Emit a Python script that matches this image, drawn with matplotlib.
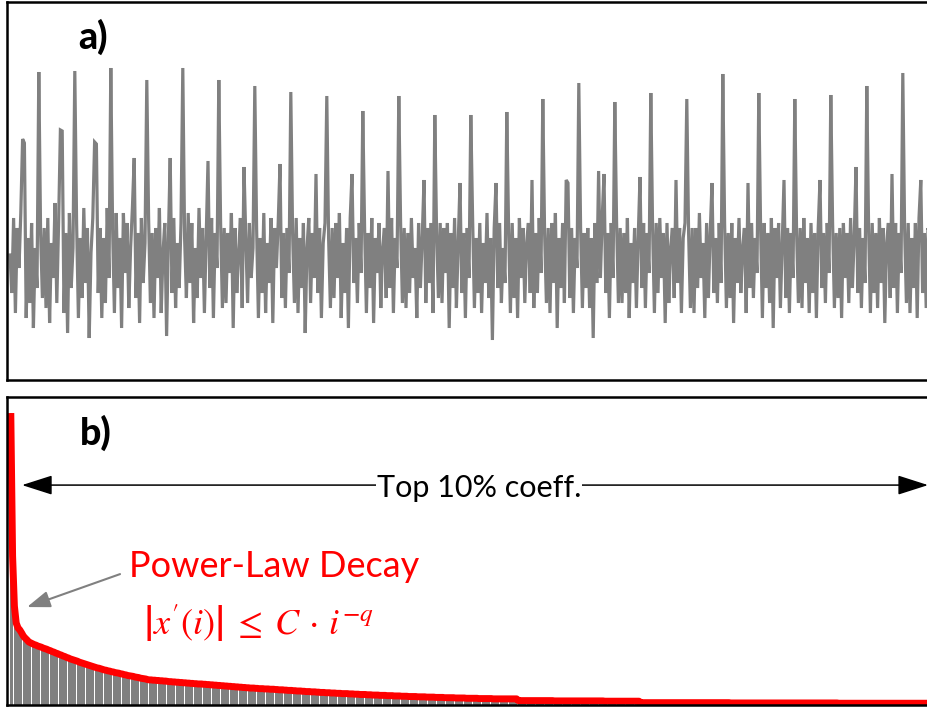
import numpy as np
import matplotlib
matplotlib.use("Agg")
import matplotlib.pyplot as plt

# ---------------- data ----------------
# panel a: signal samples (one row per ~20-sample period)
signal = [
    0.03, -0.35, 0.40, -0.55, 0.30, -0.10, 0.45, 1.19, 1.15, -0.60, 0.20, -0.45, 0.35, -0.70, 0.10, -0.30, 1.86, 0.25, -0.40, 0.30,
    -0.50, 0.40, -0.65, 0.15, -0.20, 0.55, -0.45, 0.35, 1.28, 1.27, -0.55, 0.25, -0.75, 0.45, -0.30, 0.10, 1.87, 0.35, -0.60, 0.20,
    -0.40, 0.50, -0.25, 0.30, -0.80, 0.05, 0.40, 1.16, 1.14, -0.35, 0.30, -0.60, 0.20, -0.45, 0.50, -0.20, 1.90, 0.30, -0.55, 0.45,
    -0.30, 0.20, -0.70, 0.45, -0.15, 0.35, -0.50, 0.10, 0.50, 1.00, -0.40, 0.25, -0.65, 0.40, -0.25, 0.15, 1.78, 0.40, -0.45, 0.25,
    -0.60, 0.30, -0.20, 0.50, -0.55, 0.05, 0.35, -0.78, 0.20, 1.00, -0.35, 0.40, -0.50, 0.15, -0.30, 0.35, 1.90, 0.20, -0.40, 0.45,
    -0.25, 0.35, -0.65, 0.10, -0.40, 0.50, -0.20, 0.30, -0.55, 0.20, 0.97, -0.30, 0.40, -0.60, 0.25, -0.10, 1.78, 0.35, -0.50, 0.30,
    -0.45, 0.25, -0.15, 0.45, -0.70, 0.30, -0.35, 0.05, 0.40, -0.50, 0.91, 0.20, -0.45, 0.35, -0.20, 0.10, 1.72, 0.30, -0.60, 0.20,
    -0.35, 0.45, -0.55, 0.15, -0.25, 0.40, -0.65, 0.30, -0.10, 0.35, 0.94, -0.40, 0.25, -0.50, 0.30, -0.15, 1.66, 0.25, -0.45, 0.40,
    -0.55, 0.20, -0.30, 0.35, -0.75, 0.10, 0.40, -0.45, 0.25, -0.20, 0.84, -0.35, 0.30, -0.60, 0.15, 0.35, 1.62, 0.20, -0.50, 0.30,
    -0.40, 0.35, -0.20, 0.45, -0.60, 0.15, -0.35, 0.30, -0.70, 0.40, 0.84, -0.25, 0.20, -0.45, 0.35, -0.15, 1.47, 0.30, -0.55, 0.25,
    -0.30, 0.40, -0.65, 0.20, -0.15, 0.35, -0.50, 0.10, 0.30, -0.40, 0.87, -0.30, 0.40, -0.55, 0.20, -0.10, 1.62, 0.35, -0.45, 0.30,
    -0.50, 0.25, -0.35, 0.40, -0.20, 0.10, -0.60, 0.35, -0.30, 0.20, 0.78, -0.45, 0.30, -0.25, 0.35, -0.55, 1.43, 0.25, -0.40, 0.35,
    -0.45, 0.30, -0.15, 0.35, -0.70, 0.25, -0.30, 0.40, -0.50, 0.15, 0.75, -0.35, 0.25, -0.60, 0.30, -0.20, 1.43, 0.40, -0.50, 0.20,
    -0.35, 0.35, -0.55, 0.15, -0.25, 0.45, -0.40, 0.20, -0.82, 0.30, 0.75, -0.30, 0.35, -0.45, 0.10, -0.25, 1.46, 0.30, -0.55, 0.35,
    -0.40, 0.20, -0.60, 0.40, -0.20, 0.30, -0.45, 0.15, 0.35, -0.35, 0.78, -0.50, 0.25, -0.35, 0.40, -0.15, 1.59, 0.25, -0.45, 0.30,
    -0.55, 0.35, -0.25, 0.45, -0.70, 0.20, -0.30, 0.35, -0.45, 0.78, 0.75, -0.40, 0.30, -0.55, 0.20, -0.10, 1.75, 0.30, -0.50, 0.25,
    -0.30, 0.30, -0.50, 0.20, -0.80, 0.35, -0.25, 0.87, -0.20, 0.40, 0.84, -0.35, 0.25, -0.60, 0.35, -0.20, 1.56, 0.35, -0.45, 0.30,
    -0.45, 0.25, -0.35, 0.40, -0.60, 0.15, -0.25, 0.30, -0.50, 0.20, 0.81, -0.30, 0.35, -0.50, 0.25, -0.15, 1.65, 0.30, -0.55, 0.35,
    -0.35, 0.40, -0.20, 0.25, -0.65, 0.35, -0.45, 0.10, 0.30, -0.40, 0.78, -0.25, 0.30, -0.55, 0.20, 0.35, 1.59, 0.25, -0.50, 0.30,
    -0.55, 0.30, -0.30, 0.45, -0.20, 0.15, -0.60, 0.35, -0.40, 0.25, 0.75, -0.35, 0.20, -0.45, 0.35, -0.25, 1.84, 0.35, -0.50, 0.25,
    -0.40, 0.35, -0.65, 0.20, -0.25, 0.40, -0.35, 0.10, 0.30, -0.55, 0.75, -0.30, 0.35, -0.40, 0.20, -0.15, 1.65, 0.30, -0.60, 0.35,
    -0.30, 0.25, -0.45, 0.40, -0.70, 0.30, -0.20, 0.35, -0.50, 0.15, 0.78, -0.40, 0.30, -0.55, 0.25, -0.20, 1.59, 0.25, -0.45, 0.30,
    -0.50, 0.40, -0.25, 0.20, -0.55, 0.35, -0.35, 0.25, -0.60, 0.30, 0.78, -0.30, 0.25, -0.45, 0.35, -0.15, 1.63, 0.35, -0.50, 0.25,
    -0.40, 0.30, -0.60, 0.35, -0.20, 0.25, -0.45, 0.40, -0.30, 0.20, 0.91, -0.35, 0.30, -0.50, 0.20, -0.25, 1.72, 0.30, -0.55, 0.35,
    -0.35, 0.25, -0.50, 0.40, -0.25, 0.30, -0.65, 0.15, 0.35, -0.40, 0.84, -0.30, 0.35, -0.55, 0.25, -0.15, 1.85, 0.30, -0.45, 0.35,
    -0.55, 0.20, -0.30, 0.35, -0.60, 0.40, 0.78, -0.35, 0.25, -0.50, 0.30, -0.62,
]

# panel b: sorted coefficient magnitudes (normalised)
coeffs = [
    1.000, 0.510, 0.339, 0.281, 0.264, 0.257, 0.247, 0.236, 0.229, 0.223, 0.216,
    0.213, 0.210, 0.207, 0.205, 0.202, 0.200, 0.198, 0.195, 0.193, 0.191, 0.188,
    0.186, 0.183, 0.181, 0.178, 0.176, 0.173, 0.171, 0.168, 0.166, 0.163, 0.161, 0.158, 0.156, 0.154, 0.152, 0.150, 0.147,
    0.145, 0.143, 0.141, 0.139, 0.137, 0.135, 0.133, 0.131, 0.129, 0.127, 0.126, 0.124, 0.122, 0.120, 0.119, 0.117, 0.116, 0.114, 0.113, 0.111, 0.110,
    0.109, 0.107, 0.106, 0.104, 0.103, 0.101, 0.100, 0.099, 0.098, 0.096, 0.095, 0.094, 0.092, 0.091, 0.090, 0.089, 0.087, 0.086,
    0.086, 0.085, 0.085, 0.084, 0.084, 0.083, 0.083, 0.082, 0.082, 0.081, 0.080, 0.080, 0.079, 0.079, 0.078, 0.078, 0.077, 0.077, 0.076, 0.076,
    0.075, 0.075, 0.074, 0.074, 0.073, 0.073, 0.072, 0.072,
    0.072, 0.071, 0.071, 0.070, 0.070, 0.069, 0.069, 0.068, 0.068, 0.067, 0.067, 0.066, 0.066, 0.065, 0.065, 0.064, 0.064, 0.063, 0.063, 0.062,
    0.062, 0.061, 0.061, 0.060, 0.060, 0.059, 0.059, 0.058, 0.058, 0.058, 0.057, 0.057, 0.056, 0.056, 0.056, 0.055, 0.055,
    0.055, 0.054, 0.054, 0.054, 0.053, 0.053, 0.052, 0.052, 0.052, 0.051, 0.051, 0.050, 0.050, 0.050, 0.049, 0.049, 0.048, 0.048, 0.048, 0.047,
    0.047, 0.046, 0.046, 0.046, 0.045, 0.045, 0.045, 0.044, 0.044, 0.043, 0.043, 0.043, 0.042, 0.042, 0.042, 0.041, 0.041,
    0.041, 0.040, 0.040, 0.040, 0.039, 0.039, 0.039, 0.039, 0.038, 0.038, 0.038, 0.037, 0.037, 0.037, 0.036, 0.036, 0.036, 0.036, 0.035, 0.035,
    0.035, 0.034, 0.034, 0.034, 0.034, 0.033, 0.033, 0.033, 0.033, 0.032, 0.032, 0.032, 0.032, 0.031, 0.031, 0.031, 0.031,
    0.030, 0.030, 0.030, 0.030, 0.029, 0.029, 0.029, 0.029, 0.029, 0.028, 0.028, 0.028, 0.028, 0.028, 0.027, 0.027, 0.027, 0.027, 0.027, 0.026,
    0.026, 0.026, 0.026, 0.026, 0.025, 0.025, 0.025, 0.025, 0.025, 0.025, 0.024, 0.024, 0.024, 0.024, 0.024, 0.024, 0.023, 0.023, 0.023, 0.023,
    0.023, 0.023, 0.023, 0.022, 0.022, 0.022, 0.022, 0.022, 0.022, 0.022, 0.022, 0.021, 0.021, 0.021, 0.021, 0.021, 0.021, 0.021, 0.021, 0.021,
    0.021, 0.021, 0.021, 0.021, 0.021,
    0.015, 0.015, 0.015, 0.015, 0.015, 0.015, 0.015, 0.015, 0.015, 0.015, 0.015, 0.015, 0.015, 0.015, 0.015, 0.015, 0.015, 0.015, 0.015, 0.015,
    0.014, 0.014, 0.014, 0.014, 0.014, 0.014, 0.014, 0.014, 0.014, 0.014, 0.014, 0.014, 0.014, 0.014, 0.014, 0.014, 0.014, 0.014, 0.014, 0.014,
    0.014, 0.014, 0.014, 0.014, 0.014, 0.014, 0.014, 0.014,
    0.013, 0.013, 0.013, 0.013, 0.013, 0.013, 0.013, 0.013, 0.013, 0.013, 0.013, 0.013, 0.013, 0.013, 0.013, 0.013, 0.013, 0.013, 0.013, 0.013,
    0.008, 0.008, 0.008, 0.008, 0.008, 0.008, 0.008, 0.008, 0.008, 0.008, 0.008, 0.008, 0.008, 0.008, 0.008, 0.008, 0.008, 0.008, 0.008, 0.008,
    0.008, 0.008, 0.008, 0.008, 0.008, 0.008, 0.008, 0.008, 0.008, 0.008, 0.008, 0.008, 0.008, 0.008, 0.008, 0.008, 0.008, 0.008, 0.008, 0.008,
    0.008, 0.008, 0.008, 0.008, 0.008, 0.008, 0.008, 0.008, 0.008, 0.008,
    0.007, 0.007, 0.007, 0.007, 0.007, 0.007, 0.007, 0.007, 0.007, 0.007, 0.007, 0.007, 0.007, 0.007, 0.007, 0.007, 0.007, 0.007, 0.007, 0.007,
    0.007, 0.007, 0.007, 0.007, 0.007, 0.007, 0.007, 0.007, 0.007, 0.007, 0.007, 0.007, 0.007, 0.007, 0.007, 0.007, 0.007, 0.007, 0.007, 0.007,
    0.007, 0.007, 0.007, 0.007, 0.007, 0.007, 0.007, 0.007, 0.007, 0.007, 0.007, 0.007, 0.007, 0.007, 0.007, 0.007, 0.007, 0.007, 0.007, 0.007,
    0.006, 0.006, 0.006, 0.006, 0.006, 0.006, 0.006, 0.006, 0.006, 0.006, 0.006, 0.006, 0.006, 0.006, 0.006, 0.006, 0.006, 0.006, 0.006, 0.006,
    0.006, 0.006, 0.006, 0.006, 0.006, 0.006, 0.006, 0.006, 0.006, 0.006, 0.006, 0.006, 0.006, 0.006, 0.006, 0.006, 0.006, 0.006, 0.006, 0.006,
    0.006, 0.006, 0.006, 0.006, 0.006, 0.006, 0.006, 0.006, 0.006, 0.006, 0.006, 0.006,
]

label_a = "a)"
label_b = "b)"
span_label = "Top 10% coeff."
decay_label = "Power-Law Decay"
decay_formula = r"$\left|x'(i)\right|\;\leq\;C\,\cdot\,i^{-q}$"

# ---------------- figure ----------------
plt.rcParams["font.family"] = ["Lato", "DejaVu Sans"]
plt.rcParams["mathtext.fontset"] = "stix"

W, H = 928, 707
fig = plt.figure(figsize=(W / 100, H / 100), dpi=100)

GRAY = "#808080"
RED = "#FF0000"

ax_a = fig.add_axes([7 / W, 1 - 380 / H, 1.0, (380 - 1.5) / H])
ax_b = fig.add_axes([7 / W, 1 - 705 / H, 1.0, 308 / H])

xa = np.arange(len(signal))
ax_a.plot(xa, signal, color=GRAY, lw=2.3, solid_joinstyle="miter")
ax_a.set_xlim(-3 / 1.8, 925 / 1.8)
ax_a.set_ylim(-1.22, 2.565)

xb = np.arange(len(coeffs))
ax_b.bar(xb, coeffs, width=0.88, align="edge", color=GRAY, edgecolor="none")
ax_b.plot(xb + 0.44, coeffs, color=RED, lw=5.0, solid_capstyle="butt")
ax_b.set_xlim(-3 / 1.8, 925 / 1.8)
ax_b.set_ylim(0, 1.055)

for ax in (ax_a, ax_b):
    ax.set_xticks([])
    ax.set_yticks([])
    for s in ax.spines.values():
        s.set_linewidth(1.8)
        s.set_color("black")

ax_a.text(0.0765, 0.8745, label_a, transform=ax_a.transAxes, fontsize=27,
          fontweight="black", ha="left", va="baseline")
ax_b.text(0.0787, 0.844, label_b, transform=ax_b.transAxes, fontsize=27,
          fontweight="black", ha="left", va="baseline")

# double arrow for "Top 10% coeff."
ax_b.annotate("", xy=(0.0162, 0.714), xytext=(0.9925, 0.714),
              xycoords="axes fraction", textcoords="axes fraction",
              arrowprops=dict(arrowstyle="<|-|>,head_length=1.0,head_width=0.32",
                              mutation_scale=19, color="black", lw=1.1,
                              shrinkA=0, shrinkB=0))
ax_b.text(0.5086, 0.675, span_label, transform=ax_b.transAxes, fontsize=22,
          ha="center", va="baseline",
          bbox=dict(facecolor="white", edgecolor="none", pad=0.5))

# power-law annotation
ax_b.annotate("", xy=(0.0216, 0.318), xytext=(0.1218, 0.425),
              xycoords="axes fraction", textcoords="axes fraction",
              arrowprops=dict(arrowstyle="-|>,head_length=1.0,head_width=0.36",
                              mutation_scale=14, color=GRAY, lw=1.5,
                              shrinkA=0, shrinkB=0))
ax_b.text(0.1315, 0.4156, decay_label, transform=ax_b.transAxes, fontsize=26,
          color=RED, ha="left", va="baseline")
ax_b.text(0.1466, 0.227, decay_formula, transform=ax_b.transAxes, fontsize=26,
          color=RED, ha="left", va="baseline")

fig.savefig("out.png", dpi=100)
